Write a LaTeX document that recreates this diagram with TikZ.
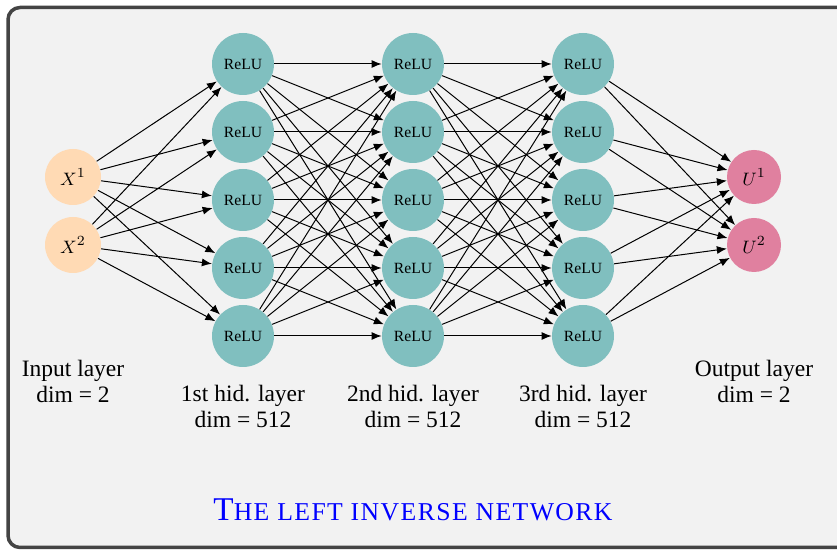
\documentclass[tikz,border=0pt]{standalone}
\usepackage{fontspec}
\setmainfont{Liberation Serif}
\usetikzlibrary{arrows.meta}
\definecolor{bgc}{RGB}{242,242,242}
\definecolor{framec}{RGB}{68,68,68}
\definecolor{inc}{RGB}{255,218,180}
\definecolor{hidc}{RGB}{128,191,191}
\definecolor{outc}{RGB}{224,128,159}
\definecolor{titlec}{RGB}{0,0,255}
\newcommand{\smallcapsword}[1]{{\fontsize{12.85}{14}\selectfont #1}}
\begin{document}
\begin{tikzpicture}[x=0.5pt,y=-0.5pt,
  neuron/.style={circle,inner sep=0pt,draw=none},
  innode/.style={neuron,fill=inc,minimum size=28pt,font=\fontsize{9.5}{11}\selectfont},
  hidnode/.style={neuron,fill=hidc,minimum size=31pt,font=\fontsize{7.8}{9}\selectfont},
  outnode/.style={neuron,fill=outc,minimum size=27pt,font=\fontsize{9.5}{11}\selectfont},
  conn/.style={-{Latex[length=5pt,width=4pt]},line width=0.5pt,black},
  lab/.style={align=center,font=\fontsize{11.75}{13}\selectfont,inner sep=0pt}]
\useasboundingbox (0,0) rectangle (837,550);
\begin{scope}
\clip (0,0) rectangle (837,550);
\draw[line width=1.75pt,draw=framec,fill=bgc,rounded corners=6pt] (8,7.5) rectangle (900,547.5);
\end{scope}
% input
\node[innode] (i1) at (73,177) {$X^1$};
\node[innode] (i2) at (73,245) {$X^2$};
% hidden
\foreach \l/\x in {1/243,2/413,3/583}{
  \foreach \k/\y in {1/64,2/132,3/200,4/268,5/336}{
    \node[hidnode] (h\l\k) at (\x,\y) {ReLU};
  }
}
% output
\node[outnode] (o1) at (754,177) {$U^1$};
\node[outnode] (o2) at (754,245) {$U^2$};
% connections
\foreach \a in {1,2}{\foreach \b in {1,...,5}{\draw[conn] (i\a) -- (h1\b);}}
\foreach \a in {1,...,5}{\foreach \b in {1,...,5}{\draw[conn] (h1\a) -- (h2\b);}}
\foreach \a in {1,...,5}{\foreach \b in {1,...,5}{\draw[conn] (h2\a) -- (h3\b);}}
\foreach \a in {1,...,5}{\foreach \b in {1,2}{\draw[conn] (h3\a) -- (o\b);}}
% labels
\node[lab] (li) at (73,381) {Input layer\\dim = 2};
\node[lab] (l1) at (243,406.5) {1st hid. layer\\dim = 512};
\node[lab] (l2) at (413,406.5) {2nd hid. layer\\dim = 512};
\node[lab] (l3) at (583,406.5) {3rd hid. layer\\dim = 512};
\node[lab] (lo) at (754,381) {Output layer\\dim = 2};
% title
\node[anchor=base,inner sep=0pt,text=titlec,font=\addfontfeature{LetterSpace=5.5}] (title) at (413,521)
  {{\fontsize{16.6}{18}\selectfont T}\smallcapsword{HE LEFT INVERSE NETWORK}};
\end{tikzpicture}
\end{document}
